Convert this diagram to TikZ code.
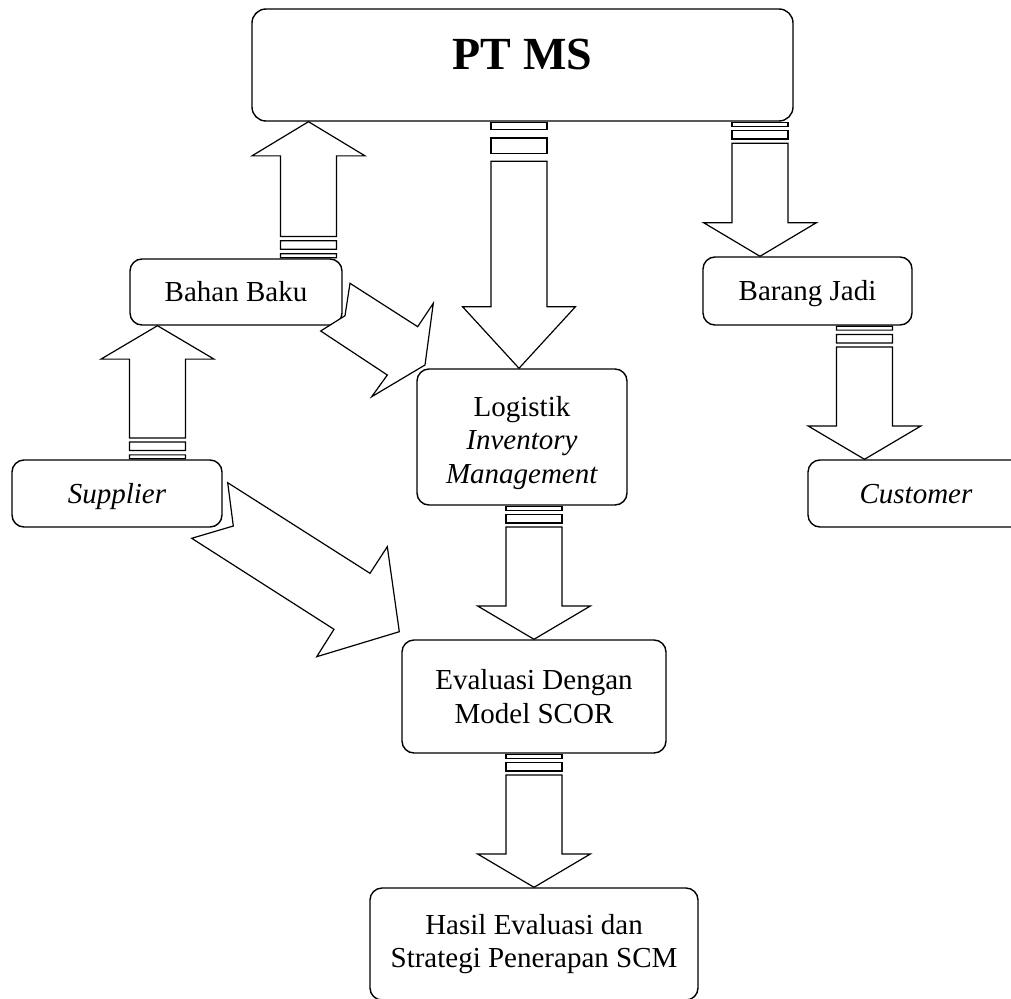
\documentclass[tikz,border=0pt]{standalone}
\usepackage{fontspec}
\setmainfont{Liberation Serif}
\usetikzlibrary{calc}

\tikzset{
  box/.style={draw=black, line width=1.4pt, rounded corners=12pt, fill=white,
    inner sep=0pt, align=center, font=\fontsize{29}{33.5}\selectfont},
  oneline/.style={text height=19.7pt, text depth=0pt},
  blockarrow/.style={draw=black, line width=1.2pt, fill=white, line join=miter},
}

% Striped block arrow from a tail point (#1) to a tip point (#2):
% two bars at the tail, then a shaft and a triangular head.
\newcommand\stripedarrow[2]{%
  \draw[blockarrow] ($(#1)!0.004!(#2)!28pt!90:(#2)$) -- ($(#1)!0.033!(#2)!28pt!90:(#2)$)
    -- ($(#1)!0.033!(#2)!28pt!-90:(#2)$) -- ($(#1)!0.004!(#2)!28pt!-90:(#2)$) -- cycle;
  \draw[blockarrow] ($(#1)!0.066!(#2)!28pt!90:(#2)$) -- ($(#1)!0.129!(#2)!28pt!90:(#2)$)
    -- ($(#1)!0.129!(#2)!28pt!-90:(#2)$) -- ($(#1)!0.066!(#2)!28pt!-90:(#2)$) -- cycle;
  \draw[blockarrow] ($(#1)!0.16!(#2)!28pt!90:(#2)$) -- ($(#1)!0.75!(#2)!28pt!90:(#2)$)
    -- ($(#1)!0.75!(#2)!56.5pt!90:(#2)$) -- (#2)
    -- ($(#1)!0.75!(#2)!56.5pt!-90:(#2)$) -- ($(#1)!0.75!(#2)!28pt!-90:(#2)$)
    -- ($(#1)!0.16!(#2)!28pt!-90:(#2)$) -- cycle;
}

\begin{document}
\begin{tikzpicture}[x=1pt, y=-1pt]
  \useasboundingbox (0,0) rectangle (1011,998);
  \fill[white] (0,0) rectangle (1011,998);
  \clip (0,0) rectangle (1011,998);

  % boxes
  \node[box, minimum width=541pt, minimum height=112pt, rounded corners=14pt,
        text height=30pt, text depth=20pt,
        font=\fontsize{46}{50}\selectfont\bfseries] (ptms) at (522.5,65) {PT MS};
  \node[box, oneline, minimum width=212pt, minimum height=66pt] (bahan) at (236,292) {Bahan Baku};
  \node[box, oneline, minimum width=210pt, minimum height=67pt] (supplier) at (117,493.5) {\textit{Supplier}};
  \node[box, oneline, minimum width=209pt, minimum height=68pt] (barang) at (807.5,291) {Barang Jadi};
  \node[box, oneline, minimum width=216pt, minimum height=67pt] (customer) at (916,493.5) {\textit{Customer}};
  \node[box, minimum width=210pt, minimum height=136pt, text height=100pt, text depth=8pt]
        (logistik) at (522,437)
        {\begin{tabular}[b]{@{}c@{}}Logistik\\\textit{Inventory}\\\textit{Management}\end{tabular}};
  \node[box, minimum width=264pt, minimum height=113pt] (evaluasi) at (534,696.5)
        {Evaluasi Dengan\\Model SCOR};
  \node[box, minimum width=328pt, minimum height=112pt] (hasil) at (534,944)
        {Hasil Evaluasi dan\\Strategi Penerapan SCM};

  % arrow end points on the box edges
  \coordinate (a1s) at (519,0 |- ptms.south);
  \coordinate (a1e) at (519,0 |- logistik.north);
  \coordinate (a2s) at (760,0 |- ptms.south);
  \coordinate (a2e) at (760,0 |- barang.north);
  \coordinate (a3s) at (534,0 |- logistik.south);
  \coordinate (a3e) at (534,0 |- evaluasi.north);
  \coordinate (a4s) at (534,0 |- evaluasi.south);
  \coordinate (a4e) at (534,0 |- hasil.north);
  \coordinate (a5s) at (864.5,0 |- barang.south);
  \coordinate (a5e) at (864.5,0 |- customer.north);
  \coordinate (a6s) at (308.5,0 |- bahan.north);
  \coordinate (a6e) at (308.5,0 |- ptms.south);
  \coordinate (a7s) at (157.5,0 |- supplier.north);
  \coordinate (a7e) at (157.5,0 |- bahan.south);

  \stripedarrow{a1s}{a1e}
  \stripedarrow{a2s}{a2e}
  \stripedarrow{a3s}{a3e}
  \stripedarrow{a4s}{a4e}
  \stripedarrow{a5s}{a5e}
  \stripedarrow{a6s}{a6e}
  \stripedarrow{a7s}{a7e}

  % slanted block arrows
  \draw[blockarrow] (350,283.3) -- (345,315.7) -- (320.7,331) -- (387.3,375)
    -- (371.7,396.7) -- (425,365) -- (433.3,303.3) -- (417.7,326.7) -- cycle;
  \draw[blockarrow] (227.7,482.7) -- (233.3,526) -- (191.7,538.3) -- (334,629.3)
    -- (316.7,656.7) -- (399.3,631.7) -- (387.3,546.7) -- (370,573.3) -- cycle;
\end{tikzpicture}
\end{document}
